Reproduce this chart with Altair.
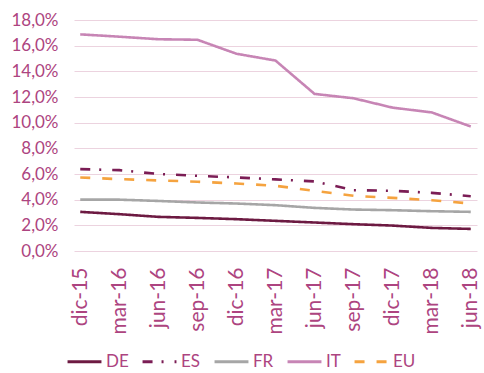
import altair as alt
import pandas as pd

periods = ["dic-15", "mar-16", "jun-16", "sep-16", "dic-16", "mar-17",
           "jun-17", "sep-17", "dic-17", "mar-18", "jun-18"]
series = ["DE", "ES", "FR", "IT", "EU"]
de = [3.05, 2.87, 2.66, 2.58, 2.48, 2.35, 2.22, 2.09, 1.98, 1.80, 1.72]
es = [6.38, 6.30, 6.00, 5.86, 5.73, 5.58, 5.42, 4.74, 4.69, 4.53, 4.27]
fr = [4.00, 4.00, 3.90, 3.78, 3.70, 3.57, 3.36, 3.23, 3.18, 3.10, 3.05]
it = [16.88, 16.70, 16.50, 16.46, 15.37, 14.84, 12.24, 11.90, 11.17, 10.80, 9.70]
eu = [5.73, 5.60, 5.50, 5.40, 5.26, 5.08, 4.69, 4.30, 4.14, 3.96, 3.70]

colors = ["#6d1a42", "#7b1d55", "#a6a6a6", "#c785b5", "#f5a33f"]
dashes = [[1, 0], [10, 9, 2, 11], [1, 0], [1, 0], [10, 12]]

rows = []
for name, vals in zip(series, [de, es, fr, it, eu]):
    for i, (p, v) in enumerate(zip(periods, vals)):
        rows.append({"period": p, "serie": name, "value": v / 100})
df = pd.DataFrame(rows)

label_color = "#ad4480"
font = "Lato"

chart = alt.Chart(df).mark_line(strokeWidth=2.6).encode(
    x=alt.X("period:N", sort=periods, title=None,
            scale=alt.Scale(type="point", padding=0.16),
            axis=alt.Axis(labelAngle=270, labelFontSize=21, labelColor=label_color,
                          labelFont=font, ticks=False, domain=False, grid=False,
                          labelPadding=16)),
    y=alt.Y("value:Q", title=None,
            scale=alt.Scale(domain=[0, 0.18], nice=False),
            axis=alt.Axis(values=[i * 0.02 for i in range(10)],
                          labelExpr="replace(format(datum.value, '.1%'), '.', ',')",
                          labelFontSize=17, labelColor=label_color, labelFont=font,
                          ticks=False, domain=False, grid=True,
                          gridColor="#ecd3df", gridWidth=1, labelPadding=16)),
    color=alt.Color("serie:N", sort=series,
                    scale=alt.Scale(domain=series, range=colors),
                    legend=alt.Legend(title=None, orient="none", direction="horizontal",
                                      legendX=-8, legendY=323, symbolType="stroke",
                                      symbolSize=1150, symbolStrokeWidth=3,
                                      labelFontSize=17, labelColor=label_color,
                                      labelFont=font, columnPadding=7,
                                      labelOffset=3)),
    strokeDash=alt.StrokeDash("serie:N", sort=series,
                              scale=alt.Scale(domain=series, range=dashes),
                              legend=None),
    detail="serie:N",
).properties(
    width=403, height=231,
    autosize=alt.AutoSizeParams(type="none"),
    padding={"left": 74, "top": 20, "right": 7, "bottom": 122},
).configure_view(stroke=None)

chart.save("out.html", embed_options={"renderer": "svg", "actions": False})
